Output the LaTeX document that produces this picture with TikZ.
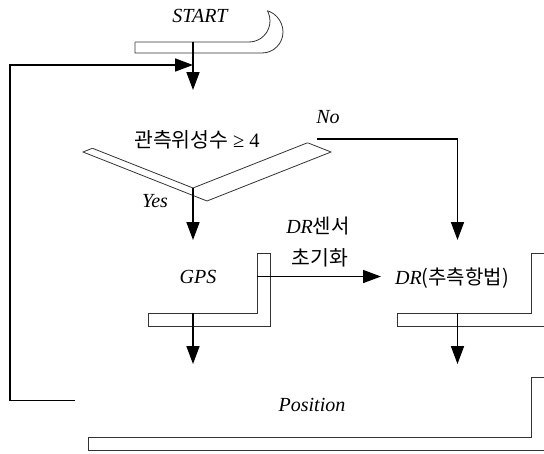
\documentclass[tikz,border=0pt]{standalone}
\usepackage{fontspec}
\setmainfont{Liberation Serif}
\newfontfamily\kr{Noto Sans CJK KR}
\usetikzlibrary{arrows.meta,shapes.geometric}

\tikzset{
  lbl/.style={font=\fontsize{20}{23}\selectfont\itshape, inner sep=0pt},
  krlbl/.style={font=\fontsize{20.5}{23}\selectfont\kr, inner sep=0pt},
  flow/.style={line width=1.6pt, -{Triangle[length=18pt,width=13pt]}},
  shade/.style={fill=white, draw=black!80, line width=0.8pt},
  rim/.style={draw=black!80, line width=0.8pt},
  hidden/.style={draw=none, inner sep=0pt, outer sep=0pt},
}

% A white shape casting an outlined drop shadow: the shadow is drawn first,
% the shape covers it, and the shape's edge shows only over the shadow.
\newcommand\castshadow[2]{%
  \path[shade, shift={#2}] #1;
  \fill[white] #1;
  \begin{scope}
    \clip[shift={#2}] #1;
    \draw[rim] #1;
  \end{scope}}

\begin{document}
\begin{tikzpicture}[x=1pt,y=-1pt]
\useasboundingbox (0,0) rectangle (544,453);

% shapes with their shadows
\castshadow{(122,-1) -- (249,-1) .. controls (260.6,-1) and (270,9.4) .. (270,21)
  .. controls (270,32.6) and (260.6,42) .. (249,42) -- (122,42) -- cycle}{(13,11)}
\castshadow{(69,139) -- (193,90) -- (317,139) -- (193,188) -- cycle}{(14,13)}
\castshadow{(135,240) rectangle (257,313)}{(13,13)}
\castshadow{(384,240) rectangle (531,313)}{(13,13)}
\castshadow{(75,364) rectangle (531,437)}{(13,13)}

% named outlines of the shapes
\node[hidden, minimum width=148pt, minimum height=43pt] (start) at (196,20.5) {};
\node[hidden, diamond, minimum width=248pt, minimum height=98pt] (dec) at (193,139) {};
\node[hidden, minimum width=122pt, minimum height=73pt] (gps) at (196,276.5) {};
\node[hidden, minimum width=147pt, minimum height=73pt] (dr) at (457.5,276.5) {};
\node[hidden, minimum width=456pt, minimum height=73pt] (pos) at (303,400.5) {};
\coordinate (join) at (193,65);

% labels
\node[lbl] (starttxt) at (200,16) {START};
\node[krlbl] (cond) at (197,140) {관측위성수 {\rmfamily ≥ 4}};
\node[lbl] (no) at (328,117) {No};
\node[lbl] (yes) at (155,201) {Yes};
\node[lbl] (gpstxt) at (198,277) {GPS};
\node[lbl] (drtxt) at (452,278) {DR{\kr\upshape (추측항법)}};
\node[lbl] (init1) at (318,226) {DR{\kr\upshape 센서}};
\node[krlbl] (init2) at (320,258) {초기화};
\node[lbl] (postxt) at (312,405) {Position};

% connectors
\draw[flow] (start.south -| dec.north) -- (dec.north);
\draw[flow] (pos.west) -- ++(-65,0) |- (join);
\draw[flow] (dec.south) -- (dec.south |- gps.north);
\draw[flow] (dec.east) -| (dr.north);
\draw[flow, shorten >=3pt] (gps.east) -- (gps.east -| dr.west);
\draw[flow] (dec.south |- gps.south) -- (dec.south |- pos.north);
\draw[flow] (dr.south) -- (dr.south |- pos.north);
\end{tikzpicture}
\end{document}
